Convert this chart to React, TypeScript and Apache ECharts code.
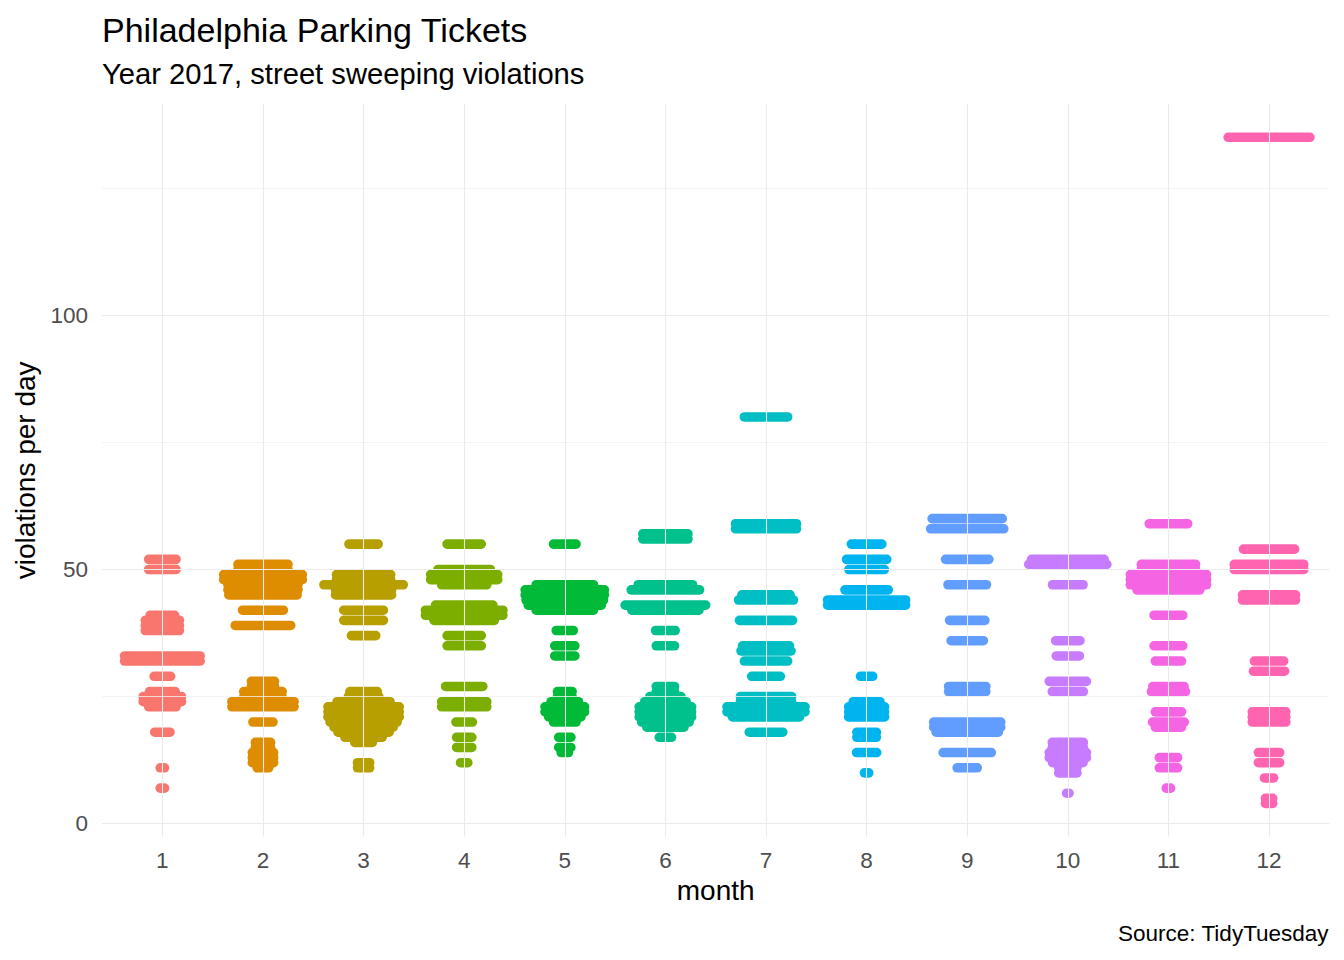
import React, { useEffect, useRef } from "react";
import * as echarts from "echarts";

// each row: [violations per day, number of tickets drawn at that level]
type Row = [number, number];

const months = ["1", "2", "3", "4", "5", "6", "7", "8", "9", "10", "11", "12"];

const jan: Row[] = [
  [52, 46], [50, 46], [41, 41], [40, 57], [39, 57], [38, 57], [33, 125], [32, 125],
  [29, 28], [26, 43], [25, 64], [24, 64], [23, 46], [18, 26], [11, 8], [7, 8],
];
const feb: Row[] = [
  [51, 83], [50, 83], [49, 130], [48, 130], [47, 116], [46, 116], [45, 113], [42, 68],
  [39, 92], [28, 39], [27, 39], [26, 64], [25, 64], [24, 103], [23, 103], [20, 34],
  [16, 26], [15, 26], [14, 36], [13, 36], [12, 36], [11, 20],
];
const mar: Row[] = [
  [55, 49], [49, 90], [48, 90], [47, 131], [46, 93], [45, 93], [42, 66], [40, 66],
  [37, 41], [26, 46], [25, 51], [24, 88], [23, 118], [22, 118], [21, 118], [20, 111],
  [19, 98], [18, 85], [17, 62], [16, 30], [12, 21], [11, 21],
];
const apr: Row[] = [
  [55, 57], [50, 87], [49, 111], [48, 111], [47, 75], [43, 95], [42, 128], [41, 128],
  [40, 100], [37, 57], [35, 57], [27, 62], [24, 75], [23, 75], [20, 28], [17, 26],
  [15, 26], [12, 13],
];
const may: Row[] = [
  [55, 38], [47, 95], [46, 131], [45, 131], [44, 128], [43, 121], [42, 95], [38, 29],
  [35, 34], [33, 34], [26, 25], [25, 25], [24, 46], [23, 66], [22, 66], [21, 54],
  [20, 38], [17, 21], [15, 21], [14, 13],
];
const jun: Row[] = [
  [57, 75], [56, 75], [47, 90], [46, 113], [43, 133], [42, 111], [38, 33], [35, 31],
  [27, 31], [26, 31], [25, 52], [24, 69], [23, 87], [22, 87], [21, 87], [20, 79],
  [19, 62], [17, 21],
];
const jul: Row[] = [
  [80, 72], [59, 101], [58, 101], [45, 80], [44, 91], [40, 88], [35, 78], [34, 83],
  [32, 72], [29, 48], [25, 85], [24, 85], [23, 129], [22, 129], [21, 111], [18, 56],
];
const aug: Row[] = [
  [55, 51], [52, 67], [50, 59], [46, 72], [44, 129], [43, 129], [29, 21], [24, 45],
  [23, 60], [22, 60], [21, 60], [18, 33], [17, 33], [14, 34], [10, 8],
];
const sep: Row[] = [
  [60, 116], [58, 121], [52, 72], [47, 64], [40, 59], [36, 54], [27, 62], [26, 62],
  [20, 111], [19, 111], [18, 103], [14, 80], [11, 34],
];
const oct: Row[] = [
  [52, 120], [51, 129], [47, 51], [36, 41], [33, 39], [28, 62], [26, 52], [16, 52],
  [15, 52], [14, 62], [13, 62], [12, 51], [11, 31], [10, 31], [6, 5],
];
const nov: Row[] = [
  [59, 64], [51, 90], [50, 90], [49, 126], [48, 126], [47, 126], [46, 104], [41, 48],
  [35, 48], [32, 44], [27, 52], [26, 57], [22, 44], [20, 53], [19, 44], [13, 31],
  [11, 31], [7, 8],
];
const dec: Row[] = [
  [135, 135], [54, 85], [51, 115], [50, 115], [45, 88], [44, 88], [32, 49], [30, 52],
  [22, 56], [21, 56], [20, 56], [14, 36], [12, 36], [9, 16], [5, 13], [4, 13],
];

const monthRows = [jan, feb, mar, apr, may, jun, jul, aug, sep, oct, nov, dec];

const palette = [
  "#F8766D", "#DE8C00", "#B79F00", "#7CAE00", "#00BA38", "#00C08B",
  "#00BFC4", "#00B4F0", "#619CFF", "#C77CFF", "#F564E3", "#FF64B0",
];

const yMajor = [0, 50, 100];
const yMinor = [25, 75, 125];

// dot diameter and horizontal step between swarmed points, in px
const DOT = 9.6;
const STEP = 0.61;

const font = "'Liberation Sans', Arial, sans-serif";

const App: React.FC = () => {
  const chartRef = useRef<HTMLDivElement>(null);

  useEffect(() => {
    document.body.style.margin = "0";
    if (!chartRef.current) return;
    const chart = echarts.init(chartRef.current, null, { renderer: "svg" });

    const swarms = monthRows.map((rows, i) => ({
      type: "custom",
      name: months[i],
      z: 3,
      silent: true,
      encode: { x: 0, y: 1 },
      data: rows.map(([v, n]) => [i + 1, v, n]),
      renderItem: (_params: any, api: any) => {
        const [cx, cy] = api.coord([api.value(0), api.value(1)]);
        const w = DOT + (api.value(2) - 1) * STEP;
        return {
          type: "rect",
          shape: { x: cx - w / 2, y: cy - DOT / 2, width: w, height: DOT, r: DOT / 2 },
          style: { fill: palette[i] },
        };
      },
    }));

    const gridLines = {
      type: "line",
      z: 1,
      data: [],
      silent: true,
      markLine: {
        silent: true,
        symbol: ["none", "none"],
        label: { show: false },
        emphasis: { disabled: true },
        animation: false,
        data: [
          ...yMinor.map((v) => ({ yAxis: v, lineStyle: { color: "#F1F1F1", width: 0.8, type: "solid" } })),
          ...yMajor.map((v) => ({ yAxis: v, lineStyle: { color: "#EBEBEB", width: 1.1, type: "solid" } })),
          ...months.map((_, i) => ({ xAxis: i + 1, lineStyle: { color: "#EBEBEB", width: 1.1, type: "solid" } })),
        ],
      },
    };

    const option: any = {
      animation: false,
      title: [
        {
          text: "Philadelphia Parking Tickets",
          left: 102,
          top: 13,
          padding: 0,
          textStyle: { fontFamily: font, fontSize: 34, fontWeight: "normal", color: "#000" },
        },
        {
          text: "Year 2017, street sweeping violations",
          left: 102,
          top: 59,
          padding: 0,
          textStyle: { fontFamily: font, fontSize: 29.2, fontWeight: "normal", color: "#000" },
        },
        {
          text: "Source: TidyTuesday",
          right: 15,
          top: 922,
          padding: 0,
          textStyle: { fontFamily: font, fontSize: 22.5, fontWeight: "normal", color: "#000" },
        },
      ],
      grid: { left: 102, right: 14.6, top: 104, bottom: 123.3 },
      xAxis: {
        type: "value",
        min: 0.4,
        max: 12.6,
        name: "month",
        nameLocation: "middle",
        nameGap: 39,
        nameTextStyle: { fontFamily: font, fontSize: 28, color: "#000" },
        axisLine: { show: false },
        axisTick: { show: false },
        splitLine: { show: false },
        axisLabel: {
          customValues: months.map((_, i) => i + 1),
          margin: 12,
          fontFamily: font,
          fontSize: 22.5,
          color: "#4D4D4D",
        },
      },
      yAxis: {
        type: "value",
        min: -2.55,
        max: 141.55,
        name: "violations per day",
        nameLocation: "middle",
        nameGap: 57,
        nameTextStyle: { fontFamily: font, fontSize: 28, color: "#000" },
        axisLine: { show: false },
        axisTick: { show: false },
        splitLine: { show: false },
        axisLabel: {
          customValues: yMajor,
          margin: 14,
          fontFamily: font,
          fontSize: 22.5,
          color: "#4D4D4D",
        },
      },
      series: [gridLines, ...swarms],
    };

    chart.setOption(option);
    return () => {
      chart.dispose();
    };
  }, []);

  return <div ref={chartRef} style={{ width: 1344, height: 960 }} />;
};

export default App;
